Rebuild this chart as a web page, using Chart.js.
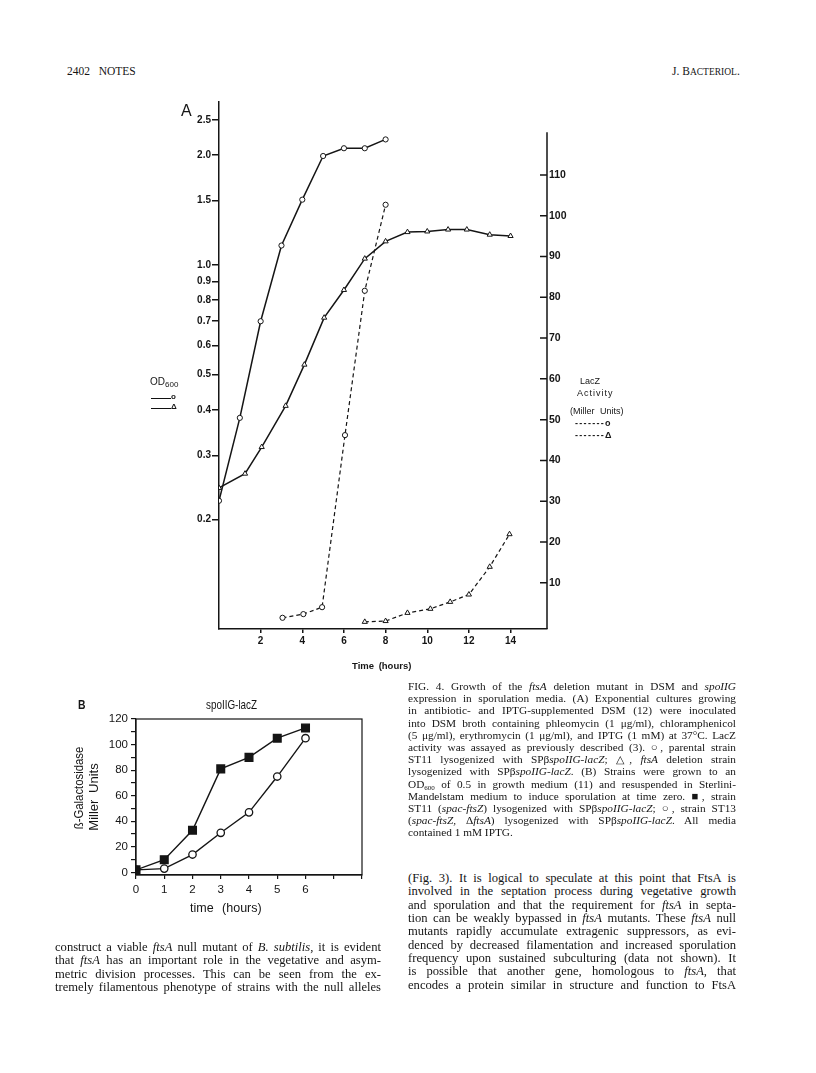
<!DOCTYPE html>
<html>
<head>
<meta charset="utf-8">
<script src="https://cdn.jsdelivr.net/npm/chart.js@4.4.1/dist/chart.umd.min.js"></script>
<style>
  body { margin: 0; background: #fff; color: #151515; }
  #page { position: relative; width: 816px; height: 1073px; overflow: hidden; font-family: "Liberation Serif", "Times New Roman", serif; }
  .abs { position: absolute; white-space: nowrap; }
  .sans { font-family: "Liberation Sans", Arial, sans-serif; }
  canvas { position: absolute; }
  .col { position: absolute; }
  .ln { display: block; overflow: hidden; text-align: justify; text-align-last: justify; white-space: normal; }
  .ln.last { text-align-last: left; }
  .rot { position: absolute; transform: translate(-50%, -50%) rotate(-90deg); white-space: nowrap; }
  .lo { font-size: 7px; position: relative; top: 2px; }
</style>
</head>
<body>
<div id="page">
  <div class="abs" style="left:67px;top:65px;font-size:11.5px;">2402&nbsp;&nbsp;&nbsp;NOTES</div>
  <div class="abs" style="left:672px;top:65px;font-size:11.5px;">J. B<span style="font-size:9.5px">ACTERIOL</span>.</div>

  <canvas id="chartA" width="560" height="600" style="left:100px;top:90px;"></canvas>
  <canvas id="chartB" width="360" height="230" style="left:40px;top:700px;"></canvas>

  <!-- chart A annotations -->
  <div class="abs sans" style="left:181px;top:102px;font-size:16px;">A</div>
  <div class="abs sans" style="left:150px;top:376px;font-size:10px;">OD<span class="lo" style="font-size:8px">600</span></div>
  <div class="abs" style="left:151px;top:398px;width:20px;border-top:1.3px solid #111;"></div>
  <div class="abs sans" style="left:171px;top:392px;font-size:8px;font-weight:bold;">o</div>
  <div class="abs" style="left:151px;top:408px;width:20px;border-top:1.3px solid #111;"></div>
  <div class="abs sans" style="left:171px;top:402px;font-size:8px;font-weight:bold;">Δ</div>

  <div class="abs sans" style="left:580px;top:376px;font-size:9px;">LacZ</div>
  <div class="abs sans" style="left:577px;top:388px;font-size:9px;letter-spacing:1px;">Activity</div>
  <div class="abs sans" style="left:570px;top:406px;font-size:9px;word-spacing:3px;">(Miller Units)</div>
  <div class="abs sans" style="left:575px;top:418px;font-size:9px;font-weight:bold;letter-spacing:1.3px;">-------o</div>
  <div class="abs sans" style="left:575px;top:430px;font-size:9px;font-weight:bold;letter-spacing:1.3px;">-------Δ</div>
  <div class="abs sans" style="left:352px;top:660px;font-size:9.5px;font-weight:bold;word-spacing:2px;">Time (hours)</div>

  <!-- chart B annotations -->
  <div class="abs sans" style="left:78px;top:697px;font-size:13px;font-weight:bold;transform:scaleX(0.8);transform-origin:left;">B</div>
  <div class="abs sans" style="left:206px;top:697px;font-size:13px;transform:scaleX(0.76);transform-origin:left;">spoIIG-lacZ</div>
  <div class="rot sans" style="left:78px;top:788px;font-size:13px;"><span style="display:inline-block;transform:scaleX(0.87)">ß-Galactosidase</span></div>
  <div class="rot sans" style="left:93px;top:797px;font-size:13px;word-spacing:3px;">Miller Units</div>
  <div class="abs sans" style="left:190px;top:901px;font-size:12.5px;word-spacing:5px;">time (hours)</div>

  <!-- caption -->
  <div class="col" style="left:408px;top:680px;width:328px;font-size:11.3px;line-height:12.2px;">
    <span class="ln" style="height:12.2px">FIG. 4. Growth of the <i>ftsA</i> deletion mutant in DSM and <i>spoIIG</i></span>
    <span class="ln" style="height:12.2px">expression in sporulation media. (A) Exponential cultures growing</span>
    <span class="ln" style="height:12.2px">in antibiotic- and IPTG-supplemented DSM (12) were inoculated</span>
    <span class="ln" style="height:12.2px">into DSM broth containing phleomycin (1 μg/ml), chloramphenicol</span>
    <span class="ln" style="height:12.2px">(5 μg/ml), erythromycin (1 μg/ml), and IPTG (1 mM) at 37°C. LacZ</span>
    <span class="ln" style="height:12.2px">activity was assayed as previously described (3). ○, parental strain</span>
    <span class="ln" style="height:12.2px">ST11 lysogenized with SPβ<i>spoIIG-lacZ</i>; △, <i>ftsA</i> deletion strain</span>
    <span class="ln" style="height:12.2px">lysogenized with SPβ<i>spoIIG-lacZ</i>. (B) Strains were grown to an</span>
    <span class="ln" style="height:12.2px">OD<span class="lo">600</span> of 0.5 in growth medium (11) and resuspended in Sterlini-</span>
    <span class="ln" style="height:12.2px">Mandelstam medium to induce sporulation at time zero. ■, strain</span>
    <span class="ln" style="height:12.2px">ST11 (<i>spac-ftsZ</i>) lysogenized with SPβ<i>spoIIG-lacZ</i>; ○, strain ST13</span>
    <span class="ln" style="height:12.2px">(<i>spac-ftsZ,</i> Δ<i>ftsA</i>) lysogenized with SPβ<i>spoIIG-lacZ</i>. All media</span>
    <span class="ln last" style="height:12.2px">contained 1 mM IPTG.</span>
  </div>

  <!-- right column body -->
  <div class="col" style="left:408px;top:872px;width:328px;font-size:12.6px;line-height:13.35px;">
    <span class="ln" style="height:13.35px">(Fig. 3). It is logical to speculate at this point that FtsA is</span>
    <span class="ln" style="height:13.35px">involved in the septation process during vegetative growth</span>
    <span class="ln" style="height:13.35px">and sporulation and that the requirement for <i>ftsA</i> in septa-</span>
    <span class="ln" style="height:13.35px">tion can be weakly bypassed in <i>ftsA</i> mutants. These <i>ftsA</i> null</span>
    <span class="ln" style="height:13.35px">mutants rapidly accumulate extragenic suppressors, as evi-</span>
    <span class="ln" style="height:13.35px">denced by decreased filamentation and increased sporulation</span>
    <span class="ln" style="height:13.35px">frequency upon sustained subculturing (data not shown). It</span>
    <span class="ln" style="height:13.35px">is possible that another gene, homologous to <i>ftsA</i>, that</span>
    <span class="ln" style="height:13.35px">encodes a protein similar in structure and function to FtsA</span>
  </div>

  <!-- left column body -->
  <div class="col" style="left:55px;top:941px;width:326px;font-size:12.6px;line-height:13.35px;">
    <span class="ln" style="height:13.35px">construct a viable <i>ftsA</i> null mutant of <i>B. subtilis</i>, it is evident</span>
    <span class="ln" style="height:13.35px">that <i>ftsA</i> has an important role in the vegetative and asym-</span>
    <span class="ln" style="height:13.35px">metric division processes. This can be seen from the ex-</span>
    <span class="ln" style="height:13.35px">tremely filamentous phenotype of strains with the null alleles</span>
  </div>
</div>

<script>
// ---- panel A: growth (OD600, log) and LacZ activity (Miller units) ----
const odHoursWt = [0, 1, 2, 3, 4, 5, 6, 7, 8];
const odWt = [0.225, 0.38, 0.70, 1.13, 1.51, 1.99, 2.09, 2.09, 2.21];

const odHoursDel = [0, 1.25, 2.05, 3.2, 4.1, 5.05, 6, 7, 8, 9.05, 10, 11, 11.9, 13, 14];
const odDel = [0.244, 0.267, 0.316, 0.41, 0.532, 0.716, 0.853, 1.04, 1.16, 1.23, 1.235, 1.25, 1.25, 1.21, 1.20];

const lacHoursWt = [3.05, 4.05, 4.95, 6.05, 7, 8];
const lacWt = [1.4, 2.3, 4.0, 46.2, 81.6, 102.7];

const lacHoursDel = [7, 8, 9.05, 10.15, 11.1, 12, 13, 13.95];
const lacDel = [0.4, 0.6, 2.6, 3.6, 5.3, 7.1, 13.9, 21.9];

const odTicks = [0.2, 0.3, 0.4, 0.5, 0.6, 0.7, 0.8, 0.9, 1.0, 1.5, 2.0, 2.5];
const lacTicks = [10, 20, 30, 40, 50, 60, 70, 80, 90, 100, 110];
const timeTicksA = [2, 4, 6, 8, 10, 12, 14];

const OD_MIN = 0.1, OD_MAX = 2.8;
const LAC_MIN = -1.35, LAC_MAX = 127.9, LAC_AXIS_TOP = 120.5;
const TIME_A_MAX = 15.75;

// ---- panel B: spoIIG-lacZ ----
const bHours = [0, 1, 2, 3, 4, 5, 6];
const bFtsZ = [2, 10, 33, 81, 90, 105, 113];
const bDelta = [2, 3, 14, 31, 47, 75, 105];
const bYTicks = [0, 10, 20, 30, 40, 50, 60, 70, 80, 90, 100, 110, 120];
const bXTicks = [0, 1, 2, 3, 4, 5, 6, 7, 8];

const INK = "#151515";

function pts(xs, ys) {
  return xs.map((x, i) => ({ x, y: ys[i] }));
}

function series(data, axis, style, dashed, radius) {
  return {
    data,
    yAxisID: axis,
    borderColor: INK,
    borderWidth: dashed ? 1.2 : 1.5,
    borderDash: dashed ? [4, 3] : [],
    pointStyle: style,
    pointRadius: radius,
    pointBorderWidth: 1,
    pointBorderColor: INK,
    pointBackgroundColor: "#fff",
    showLine: true,
    tension: 0
  };
}

function fixTicks(values) {
  return scale => { scale.ticks = values.map(v => ({ value: v })); };
}

// right-hand LacZ axis: shorter line, tick marks pointing into the plot
const lacAxis = {
  id: "lacAxis",
  afterDraw(chart) {
    const { ctx, chartArea } = chart;
    const s = chart.scales.y2;
    ctx.save();
    ctx.strokeStyle = INK;
    ctx.lineWidth = 1.5;
    ctx.beginPath();
    ctx.moveTo(chartArea.right, s.getPixelForValue(LAC_AXIS_TOP));
    ctx.lineTo(chartArea.right, chartArea.bottom);
    s.ticks.forEach(t => {
      const y = s.getPixelForValue(t.value);
      ctx.moveTo(chartArea.right - 7, y);
      ctx.lineTo(chartArea.right, y);
    });
    ctx.stroke();
    ctx.restore();
  }
};

const fontA = { family: "Liberation Sans", size: 10, weight: "bold" };

new Chart(document.getElementById("chartA"), {
  type: "scatter",
  data: {
    datasets: [
      series(pts(odHoursWt, odWt), "y", "circle", false, 2.6),
      series(pts(odHoursDel, odDel), "y", "triangle", false, 3),
      series(pts(lacHoursWt, lacWt), "y2", "circle", true, 2.6),
      series(pts(lacHoursDel, lacDel), "y2", "triangle", true, 3)
    ]
  },
  options: {
    responsive: false,
    animation: false,
    layout: { padding: { top: 12, left: 0, right: 0, bottom: 0 } },
    plugins: { legend: { display: false }, tooltip: { enabled: false } },
    scales: {
      x: {
        type: "linear",
        min: 0,
        max: TIME_A_MAX,
        afterBuildTicks: fixTicks(timeTicksA),
        afterFit: s => { s.height = 61; },
        grid: { drawOnChartArea: false, color: INK, lineWidth: 1.5, tickLength: 4 },
        border: { color: INK, width: 1.5 },
        ticks: { color: INK, font: fontA, padding: 2, autoSkip: false, maxRotation: 0 }
      },
      y: {
        type: "logarithmic",
        position: "left",
        min: OD_MIN,
        max: OD_MAX,
        afterBuildTicks: fixTicks(odTicks),
        afterFit: s => { s.width = 119; },
        grid: { drawOnChartArea: false, color: INK, lineWidth: 1.5, tickLength: 7 },
        border: { color: INK, width: 1.5 },
        ticks: { color: INK, font: fontA, padding: 1, autoSkip: false, callback: v => Number(v).toFixed(1) }
      },
      y2: {
        type: "linear",
        position: "right",
        min: LAC_MIN,
        max: LAC_MAX,
        afterBuildTicks: fixTicks(lacTicks),
        afterFit: s => { s.width = 113; },
        grid: { drawOnChartArea: false, drawTicks: false },
        border: { display: false },
        ticks: { color: INK, font: { ...fontA, size: 10.5 }, padding: 2, autoSkip: false }
      }
    }
  },
  plugins: [lacAxis]
});

// closed frame round panel B
const frameB = {
  id: "frameB",
  afterDraw(chart) {
    const { ctx, chartArea: a } = chart;
    ctx.save();
    ctx.strokeStyle = INK;
    ctx.lineWidth = 1.2;
    ctx.strokeRect(a.left, a.top, a.right - a.left, a.bottom - a.top);
    ctx.restore();
  }
};

const fontB = { family: "Liberation Sans", size: 11.5 };

new Chart(document.getElementById("chartB"), {
  type: "scatter",
  data: {
    datasets: [
      {
        data: pts(bHours, bFtsZ),
        borderColor: INK,
        borderWidth: 1.4,
        pointStyle: "rect",
        pointRadius: 5.4,
        pointBorderColor: INK,
        pointBackgroundColor: INK,
        showLine: true,
        tension: 0
      },
      {
        data: pts(bHours, bDelta),
        borderColor: INK,
        borderWidth: 1.4,
        pointStyle: "circle",
        pointRadius: 3.7,
        pointBorderWidth: 1.3,
        pointBorderColor: INK,
        pointBackgroundColor: "#fff",
        showLine: true,
        tension: 0
      }
    ]
  },
  options: {
    responsive: false,
    animation: false,
    layout: { padding: { top: 19, left: 0, right: 38, bottom: 0 } },
    plugins: { legend: { display: false }, tooltip: { enabled: false } },
    scales: {
      x: {
        type: "linear",
        min: 0,
        max: 8,
        afterBuildTicks: fixTicks(bXTicks),
        afterFit: s => { s.height = 55; },
        grid: { drawOnChartArea: false, color: INK, lineWidth: 1.2, tickLength: 4 },
        border: { color: INK, width: 1.2 },
        ticks: { color: INK, font: fontB, padding: 4, autoSkip: false, maxRotation: 0, callback: v => (v <= 6 ? v : "") }
      },
      y: {
        type: "linear",
        min: -2,
        max: 120,
        afterBuildTicks: fixTicks(bYTicks),
        afterFit: s => { s.width = 96; },
        grid: { drawOnChartArea: false, color: INK, lineWidth: 1.2, tickLength: 5 },
        border: { color: INK, width: 1.2 },
        ticks: { color: INK, font: fontB, padding: 3, autoSkip: false, callback: v => (v % 20 === 0 ? v : "") }
      }
    }
  },
  plugins: [frameB]
});

// shrink any text line that is wider than its column
document.querySelectorAll(".ln").forEach(el => {
  let fs = parseFloat(getComputedStyle(el).fontSize);
  el.style.whiteSpace = "nowrap";
  while (el.scrollWidth > el.clientWidth && fs > 8) {
    fs -= 0.2;
    el.style.fontSize = fs + "px";
  }
  el.style.whiteSpace = "";
});
</script>
</body>
</html>
